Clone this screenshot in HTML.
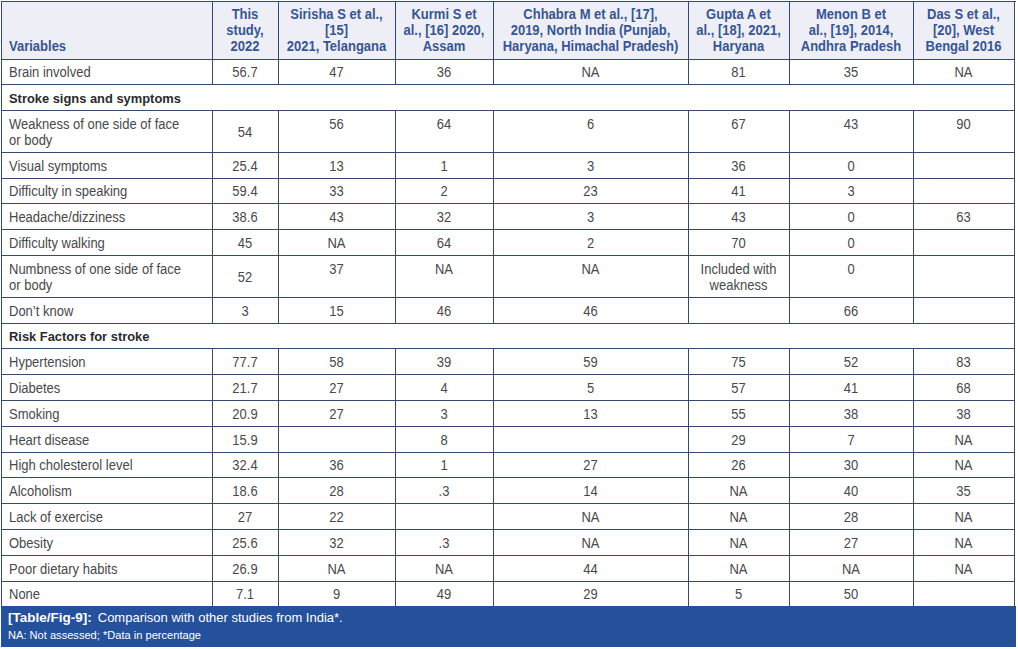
<!DOCTYPE html>
<html><head><meta charset="utf-8"><style>
html,body{margin:0;padding:0;background:#fff;width:1018px;height:649px;overflow:hidden;position:relative}
body{font-family:"Liberation Sans",sans-serif}
div{position:absolute;white-space:nowrap}
.l{background:#354b6d}
.h{font-weight:bold;font-size:13.0px;line-height:16px;color:#375593}
.b{font-size:13.0px;line-height:16px;color:#48484c}
.s{font-weight:bold;color:#2a2a2d;font-size:12.9px}
.c{text-align:center}
.cap{background:#24509c}
.ct1{left:8px;top:610px;font-size:13px;line-height:16px;color:#fff}
.ct2{left:8px;top:628px;font-size:11.1px;line-height:14px;color:#fff}
</style></head><body>
<div style="position:absolute;left:1px;top:1px;width:1013px;height:58px;background:#eeeef7"></div>
<div class="h" style="left:9px;width:203px;top:38.50px;transform:scaleY(1.06);transform-origin:50% 12.50px;">Variables</div>
<div class="h c" style="left:212px;width:66px;top:6.50px;transform:scaleY(1.06);transform-origin:50% 12.50px;">This</div>
<div class="h c" style="left:212px;width:66px;top:22.50px;transform:scaleY(1.06);transform-origin:50% 12.50px;">study,</div>
<div class="h c" style="left:212px;width:66px;top:38.50px;transform:scaleY(1.06);transform-origin:50% 12.50px;">2022</div>
<div class="h c" style="left:278px;width:117px;top:6.50px;transform:scaleY(1.06);transform-origin:50% 12.50px;">Sirisha S et al.,</div>
<div class="h c" style="left:278px;width:117px;top:22.50px;transform:scaleY(1.06);transform-origin:50% 12.50px;">[15]</div>
<div class="h c" style="left:278px;width:117px;top:38.50px;transform:scaleY(1.06);transform-origin:50% 12.50px;">2021, Telangana</div>
<div class="h c" style="left:395px;width:98px;top:6.50px;transform:scaleY(1.06);transform-origin:50% 12.50px;">Kurmi S et</div>
<div class="h c" style="left:395px;width:98px;top:22.50px;transform:scaleY(1.06);transform-origin:50% 12.50px;">al., [16] 2020,</div>
<div class="h c" style="left:395px;width:98px;top:38.50px;transform:scaleY(1.06);transform-origin:50% 12.50px;">Assam</div>
<div class="h c" style="left:493px;width:195px;top:6.50px;transform:scaleY(1.06);transform-origin:50% 12.50px;">Chhabra M et al., [17],</div>
<div class="h c" style="left:493px;width:195px;top:22.50px;transform:scaleY(1.06);transform-origin:50% 12.50px;">2019, North India (Punjab,</div>
<div class="h c" style="left:493px;width:195px;top:38.50px;transform:scaleY(1.06);transform-origin:50% 12.50px;">Haryana, Himachal Pradesh)</div>
<div class="h c" style="left:688px;width:101px;top:6.50px;transform:scaleY(1.06);transform-origin:50% 12.50px;">Gupta A et</div>
<div class="h c" style="left:688px;width:101px;top:22.50px;transform:scaleY(1.06);transform-origin:50% 12.50px;">al., [18], 2021,</div>
<div class="h c" style="left:688px;width:101px;top:38.50px;transform:scaleY(1.06);transform-origin:50% 12.50px;">Haryana</div>
<div class="h c" style="left:789px;width:124px;top:6.50px;transform:scaleY(1.06);transform-origin:50% 12.50px;">Menon B et</div>
<div class="h c" style="left:789px;width:124px;top:22.50px;transform:scaleY(1.06);transform-origin:50% 12.50px;">al., [19], 2014,</div>
<div class="h c" style="left:789px;width:124px;top:38.50px;transform:scaleY(1.06);transform-origin:50% 12.50px;">Andhra Pradesh</div>
<div class="h c" style="left:913px;width:101px;top:6.50px;transform:scaleY(1.06);transform-origin:50% 12.50px;">Das S et al.,</div>
<div class="h c" style="left:913px;width:101px;top:22.50px;transform:scaleY(1.06);transform-origin:50% 12.50px;">[20], West</div>
<div class="h c" style="left:913px;width:101px;top:38.50px;transform:scaleY(1.06);transform-origin:50% 12.50px;">Bengal 2016</div>
<div class="b" style="left:9px;width:203px;top:64.50px;transform:scaleY(1.06);transform-origin:50% 12.50px;">Brain involved</div>
<div class="b c" style="left:212px;width:66px;top:64.50px;transform:scaleY(1.06);transform-origin:50% 12.50px;">56.7</div>
<div class="b c" style="left:278px;width:117px;top:64.50px;transform:scaleY(1.06);transform-origin:50% 12.50px;">47</div>
<div class="b c" style="left:395px;width:98px;top:64.50px;transform:scaleY(1.06);transform-origin:50% 12.50px;">36</div>
<div class="b c" style="left:493px;width:195px;top:64.50px;transform:scaleY(1.06);transform-origin:50% 12.50px;">NA</div>
<div class="b c" style="left:688px;width:101px;top:64.50px;transform:scaleY(1.06);transform-origin:50% 12.50px;">81</div>
<div class="b c" style="left:789px;width:124px;top:64.50px;transform:scaleY(1.06);transform-origin:50% 12.50px;">35</div>
<div class="b c" style="left:913px;width:101px;top:64.50px;transform:scaleY(1.06);transform-origin:50% 12.50px;">NA</div>
<div class="b s" style="left:9px;width:203px;top:90.50px;transform:scaleY(1.06);transform-origin:50% 12.50px;">Stroke signs and symptoms</div>
<div class="b" style="left:9px;width:203px;top:116.50px;transform:scaleY(1.06);transform-origin:50% 12.50px;">Weakness of one side of face</div>
<div class="b" style="left:9px;width:203px;top:132.50px;transform:scaleY(1.06);transform-origin:50% 12.50px;">or body</div>
<div class="b c" style="left:212px;width:66px;top:124.50px;transform:scaleY(1.06);transform-origin:50% 12.50px;">54</div>
<div class="b c" style="left:278px;width:117px;top:116.50px;transform:scaleY(1.06);transform-origin:50% 12.50px;">56</div>
<div class="b c" style="left:395px;width:98px;top:116.50px;transform:scaleY(1.06);transform-origin:50% 12.50px;">64</div>
<div class="b c" style="left:493px;width:195px;top:116.50px;transform:scaleY(1.06);transform-origin:50% 12.50px;">6</div>
<div class="b c" style="left:688px;width:101px;top:116.50px;transform:scaleY(1.06);transform-origin:50% 12.50px;">67</div>
<div class="b c" style="left:789px;width:124px;top:116.50px;transform:scaleY(1.06);transform-origin:50% 12.50px;">43</div>
<div class="b c" style="left:913px;width:101px;top:116.50px;transform:scaleY(1.06);transform-origin:50% 12.50px;">90</div>
<div class="b" style="left:9px;width:203px;top:158.50px;transform:scaleY(1.06);transform-origin:50% 12.50px;">Visual symptoms</div>
<div class="b c" style="left:212px;width:66px;top:158.50px;transform:scaleY(1.06);transform-origin:50% 12.50px;">25.4</div>
<div class="b c" style="left:278px;width:117px;top:158.50px;transform:scaleY(1.06);transform-origin:50% 12.50px;">13</div>
<div class="b c" style="left:395px;width:98px;top:158.50px;transform:scaleY(1.06);transform-origin:50% 12.50px;">1</div>
<div class="b c" style="left:493px;width:195px;top:158.50px;transform:scaleY(1.06);transform-origin:50% 12.50px;">3</div>
<div class="b c" style="left:688px;width:101px;top:158.50px;transform:scaleY(1.06);transform-origin:50% 12.50px;">36</div>
<div class="b c" style="left:789px;width:124px;top:158.50px;transform:scaleY(1.06);transform-origin:50% 12.50px;">0</div>
<div class="b" style="left:9px;width:203px;top:183.50px;transform:scaleY(1.06);transform-origin:50% 12.50px;">Difficulty in speaking</div>
<div class="b c" style="left:212px;width:66px;top:183.50px;transform:scaleY(1.06);transform-origin:50% 12.50px;">59.4</div>
<div class="b c" style="left:278px;width:117px;top:183.50px;transform:scaleY(1.06);transform-origin:50% 12.50px;">33</div>
<div class="b c" style="left:395px;width:98px;top:183.50px;transform:scaleY(1.06);transform-origin:50% 12.50px;">2</div>
<div class="b c" style="left:493px;width:195px;top:183.50px;transform:scaleY(1.06);transform-origin:50% 12.50px;">23</div>
<div class="b c" style="left:688px;width:101px;top:183.50px;transform:scaleY(1.06);transform-origin:50% 12.50px;">41</div>
<div class="b c" style="left:789px;width:124px;top:183.50px;transform:scaleY(1.06);transform-origin:50% 12.50px;">3</div>
<div class="b" style="left:9px;width:203px;top:209.50px;transform:scaleY(1.06);transform-origin:50% 12.50px;">Headache/dizziness</div>
<div class="b c" style="left:212px;width:66px;top:209.50px;transform:scaleY(1.06);transform-origin:50% 12.50px;">38.6</div>
<div class="b c" style="left:278px;width:117px;top:209.50px;transform:scaleY(1.06);transform-origin:50% 12.50px;">43</div>
<div class="b c" style="left:395px;width:98px;top:209.50px;transform:scaleY(1.06);transform-origin:50% 12.50px;">32</div>
<div class="b c" style="left:493px;width:195px;top:209.50px;transform:scaleY(1.06);transform-origin:50% 12.50px;">3</div>
<div class="b c" style="left:688px;width:101px;top:209.50px;transform:scaleY(1.06);transform-origin:50% 12.50px;">43</div>
<div class="b c" style="left:789px;width:124px;top:209.50px;transform:scaleY(1.06);transform-origin:50% 12.50px;">0</div>
<div class="b c" style="left:913px;width:101px;top:209.50px;transform:scaleY(1.06);transform-origin:50% 12.50px;">63</div>
<div class="b" style="left:9px;width:203px;top:235.50px;transform:scaleY(1.06);transform-origin:50% 12.50px;">Difficulty walking</div>
<div class="b c" style="left:212px;width:66px;top:235.50px;transform:scaleY(1.06);transform-origin:50% 12.50px;">45</div>
<div class="b c" style="left:278px;width:117px;top:235.50px;transform:scaleY(1.06);transform-origin:50% 12.50px;">NA</div>
<div class="b c" style="left:395px;width:98px;top:235.50px;transform:scaleY(1.06);transform-origin:50% 12.50px;">64</div>
<div class="b c" style="left:493px;width:195px;top:235.50px;transform:scaleY(1.06);transform-origin:50% 12.50px;">2</div>
<div class="b c" style="left:688px;width:101px;top:235.50px;transform:scaleY(1.06);transform-origin:50% 12.50px;">70</div>
<div class="b c" style="left:789px;width:124px;top:235.50px;transform:scaleY(1.06);transform-origin:50% 12.50px;">0</div>
<div class="b" style="left:9px;width:203px;top:261.50px;transform:scaleY(1.06);transform-origin:50% 12.50px;">Numbness of one side of face</div>
<div class="b" style="left:9px;width:203px;top:277.50px;transform:scaleY(1.06);transform-origin:50% 12.50px;">or body</div>
<div class="b c" style="left:212px;width:66px;top:269.50px;transform:scaleY(1.06);transform-origin:50% 12.50px;">52</div>
<div class="b c" style="left:278px;width:117px;top:261.50px;transform:scaleY(1.06);transform-origin:50% 12.50px;">37</div>
<div class="b c" style="left:395px;width:98px;top:261.50px;transform:scaleY(1.06);transform-origin:50% 12.50px;">NA</div>
<div class="b c" style="left:493px;width:195px;top:261.50px;transform:scaleY(1.06);transform-origin:50% 12.50px;">NA</div>
<div class="b c" style="left:688px;width:101px;top:261.50px;transform:scaleY(1.06);transform-origin:50% 12.50px;">Included with</div>
<div class="b c" style="left:688px;width:101px;top:277.50px;transform:scaleY(1.06);transform-origin:50% 12.50px;">weakness</div>
<div class="b c" style="left:789px;width:124px;top:261.50px;transform:scaleY(1.06);transform-origin:50% 12.50px;">0</div>
<div class="b" style="left:9px;width:203px;top:303.50px;transform:scaleY(1.06);transform-origin:50% 12.50px;">Don’t know</div>
<div class="b c" style="left:212px;width:66px;top:303.50px;transform:scaleY(1.06);transform-origin:50% 12.50px;">3</div>
<div class="b c" style="left:278px;width:117px;top:303.50px;transform:scaleY(1.06);transform-origin:50% 12.50px;">15</div>
<div class="b c" style="left:395px;width:98px;top:303.50px;transform:scaleY(1.06);transform-origin:50% 12.50px;">46</div>
<div class="b c" style="left:493px;width:195px;top:303.50px;transform:scaleY(1.06);transform-origin:50% 12.50px;">46</div>
<div class="b c" style="left:789px;width:124px;top:303.50px;transform:scaleY(1.06);transform-origin:50% 12.50px;">66</div>
<div class="b s" style="left:9px;width:203px;top:328.50px;transform:scaleY(1.06);transform-origin:50% 12.50px;">Risk Factors for stroke</div>
<div class="b" style="left:9px;width:203px;top:354.50px;transform:scaleY(1.06);transform-origin:50% 12.50px;">Hypertension</div>
<div class="b c" style="left:212px;width:66px;top:354.50px;transform:scaleY(1.06);transform-origin:50% 12.50px;">77.7</div>
<div class="b c" style="left:278px;width:117px;top:354.50px;transform:scaleY(1.06);transform-origin:50% 12.50px;">58</div>
<div class="b c" style="left:395px;width:98px;top:354.50px;transform:scaleY(1.06);transform-origin:50% 12.50px;">39</div>
<div class="b c" style="left:493px;width:195px;top:354.50px;transform:scaleY(1.06);transform-origin:50% 12.50px;">59</div>
<div class="b c" style="left:688px;width:101px;top:354.50px;transform:scaleY(1.06);transform-origin:50% 12.50px;">75</div>
<div class="b c" style="left:789px;width:124px;top:354.50px;transform:scaleY(1.06);transform-origin:50% 12.50px;">52</div>
<div class="b c" style="left:913px;width:101px;top:354.50px;transform:scaleY(1.06);transform-origin:50% 12.50px;">83</div>
<div class="b" style="left:9px;width:203px;top:380.50px;transform:scaleY(1.06);transform-origin:50% 12.50px;">Diabetes</div>
<div class="b c" style="left:212px;width:66px;top:380.50px;transform:scaleY(1.06);transform-origin:50% 12.50px;">21.7</div>
<div class="b c" style="left:278px;width:117px;top:380.50px;transform:scaleY(1.06);transform-origin:50% 12.50px;">27</div>
<div class="b c" style="left:395px;width:98px;top:380.50px;transform:scaleY(1.06);transform-origin:50% 12.50px;">4</div>
<div class="b c" style="left:493px;width:195px;top:380.50px;transform:scaleY(1.06);transform-origin:50% 12.50px;">5</div>
<div class="b c" style="left:688px;width:101px;top:380.50px;transform:scaleY(1.06);transform-origin:50% 12.50px;">57</div>
<div class="b c" style="left:789px;width:124px;top:380.50px;transform:scaleY(1.06);transform-origin:50% 12.50px;">41</div>
<div class="b c" style="left:913px;width:101px;top:380.50px;transform:scaleY(1.06);transform-origin:50% 12.50px;">68</div>
<div class="b" style="left:9px;width:203px;top:406.50px;transform:scaleY(1.06);transform-origin:50% 12.50px;">Smoking</div>
<div class="b c" style="left:212px;width:66px;top:406.50px;transform:scaleY(1.06);transform-origin:50% 12.50px;">20.9</div>
<div class="b c" style="left:278px;width:117px;top:406.50px;transform:scaleY(1.06);transform-origin:50% 12.50px;">27</div>
<div class="b c" style="left:395px;width:98px;top:406.50px;transform:scaleY(1.06);transform-origin:50% 12.50px;">3</div>
<div class="b c" style="left:493px;width:195px;top:406.50px;transform:scaleY(1.06);transform-origin:50% 12.50px;">13</div>
<div class="b c" style="left:688px;width:101px;top:406.50px;transform:scaleY(1.06);transform-origin:50% 12.50px;">55</div>
<div class="b c" style="left:789px;width:124px;top:406.50px;transform:scaleY(1.06);transform-origin:50% 12.50px;">38</div>
<div class="b c" style="left:913px;width:101px;top:406.50px;transform:scaleY(1.06);transform-origin:50% 12.50px;">38</div>
<div class="b" style="left:9px;width:203px;top:432.50px;transform:scaleY(1.06);transform-origin:50% 12.50px;">Heart disease</div>
<div class="b c" style="left:212px;width:66px;top:432.50px;transform:scaleY(1.06);transform-origin:50% 12.50px;">15.9</div>
<div class="b c" style="left:395px;width:98px;top:432.50px;transform:scaleY(1.06);transform-origin:50% 12.50px;">8</div>
<div class="b c" style="left:688px;width:101px;top:432.50px;transform:scaleY(1.06);transform-origin:50% 12.50px;">29</div>
<div class="b c" style="left:789px;width:124px;top:432.50px;transform:scaleY(1.06);transform-origin:50% 12.50px;">7</div>
<div class="b c" style="left:913px;width:101px;top:432.50px;transform:scaleY(1.06);transform-origin:50% 12.50px;">NA</div>
<div class="b" style="left:9px;width:203px;top:457.50px;transform:scaleY(1.06);transform-origin:50% 12.50px;">High cholesterol level</div>
<div class="b c" style="left:212px;width:66px;top:457.50px;transform:scaleY(1.06);transform-origin:50% 12.50px;">32.4</div>
<div class="b c" style="left:278px;width:117px;top:457.50px;transform:scaleY(1.06);transform-origin:50% 12.50px;">36</div>
<div class="b c" style="left:395px;width:98px;top:457.50px;transform:scaleY(1.06);transform-origin:50% 12.50px;">1</div>
<div class="b c" style="left:493px;width:195px;top:457.50px;transform:scaleY(1.06);transform-origin:50% 12.50px;">27</div>
<div class="b c" style="left:688px;width:101px;top:457.50px;transform:scaleY(1.06);transform-origin:50% 12.50px;">26</div>
<div class="b c" style="left:789px;width:124px;top:457.50px;transform:scaleY(1.06);transform-origin:50% 12.50px;">30</div>
<div class="b c" style="left:913px;width:101px;top:457.50px;transform:scaleY(1.06);transform-origin:50% 12.50px;">NA</div>
<div class="b" style="left:9px;width:203px;top:483.50px;transform:scaleY(1.06);transform-origin:50% 12.50px;">Alcoholism</div>
<div class="b c" style="left:212px;width:66px;top:483.50px;transform:scaleY(1.06);transform-origin:50% 12.50px;">18.6</div>
<div class="b c" style="left:278px;width:117px;top:483.50px;transform:scaleY(1.06);transform-origin:50% 12.50px;">28</div>
<div class="b c" style="left:395px;width:98px;top:483.50px;transform:scaleY(1.06);transform-origin:50% 12.50px;">.3</div>
<div class="b c" style="left:493px;width:195px;top:483.50px;transform:scaleY(1.06);transform-origin:50% 12.50px;">14</div>
<div class="b c" style="left:688px;width:101px;top:483.50px;transform:scaleY(1.06);transform-origin:50% 12.50px;">NA</div>
<div class="b c" style="left:789px;width:124px;top:483.50px;transform:scaleY(1.06);transform-origin:50% 12.50px;">40</div>
<div class="b c" style="left:913px;width:101px;top:483.50px;transform:scaleY(1.06);transform-origin:50% 12.50px;">35</div>
<div class="b" style="left:9px;width:203px;top:509.50px;transform:scaleY(1.06);transform-origin:50% 12.50px;">Lack of exercise</div>
<div class="b c" style="left:212px;width:66px;top:509.50px;transform:scaleY(1.06);transform-origin:50% 12.50px;">27</div>
<div class="b c" style="left:278px;width:117px;top:509.50px;transform:scaleY(1.06);transform-origin:50% 12.50px;">22</div>
<div class="b c" style="left:493px;width:195px;top:509.50px;transform:scaleY(1.06);transform-origin:50% 12.50px;">NA</div>
<div class="b c" style="left:688px;width:101px;top:509.50px;transform:scaleY(1.06);transform-origin:50% 12.50px;">NA</div>
<div class="b c" style="left:789px;width:124px;top:509.50px;transform:scaleY(1.06);transform-origin:50% 12.50px;">28</div>
<div class="b c" style="left:913px;width:101px;top:509.50px;transform:scaleY(1.06);transform-origin:50% 12.50px;">NA</div>
<div class="b" style="left:9px;width:203px;top:535.50px;transform:scaleY(1.06);transform-origin:50% 12.50px;">Obesity</div>
<div class="b c" style="left:212px;width:66px;top:535.50px;transform:scaleY(1.06);transform-origin:50% 12.50px;">25.6</div>
<div class="b c" style="left:278px;width:117px;top:535.50px;transform:scaleY(1.06);transform-origin:50% 12.50px;">32</div>
<div class="b c" style="left:395px;width:98px;top:535.50px;transform:scaleY(1.06);transform-origin:50% 12.50px;">.3</div>
<div class="b c" style="left:493px;width:195px;top:535.50px;transform:scaleY(1.06);transform-origin:50% 12.50px;">NA</div>
<div class="b c" style="left:688px;width:101px;top:535.50px;transform:scaleY(1.06);transform-origin:50% 12.50px;">NA</div>
<div class="b c" style="left:789px;width:124px;top:535.50px;transform:scaleY(1.06);transform-origin:50% 12.50px;">27</div>
<div class="b c" style="left:913px;width:101px;top:535.50px;transform:scaleY(1.06);transform-origin:50% 12.50px;">NA</div>
<div class="b" style="left:9px;width:203px;top:561.50px;transform:scaleY(1.06);transform-origin:50% 12.50px;">Poor dietary habits</div>
<div class="b c" style="left:212px;width:66px;top:561.50px;transform:scaleY(1.06);transform-origin:50% 12.50px;">26.9</div>
<div class="b c" style="left:278px;width:117px;top:561.50px;transform:scaleY(1.06);transform-origin:50% 12.50px;">NA</div>
<div class="b c" style="left:395px;width:98px;top:561.50px;transform:scaleY(1.06);transform-origin:50% 12.50px;">NA</div>
<div class="b c" style="left:493px;width:195px;top:561.50px;transform:scaleY(1.06);transform-origin:50% 12.50px;">44</div>
<div class="b c" style="left:688px;width:101px;top:561.50px;transform:scaleY(1.06);transform-origin:50% 12.50px;">NA</div>
<div class="b c" style="left:789px;width:124px;top:561.50px;transform:scaleY(1.06);transform-origin:50% 12.50px;">NA</div>
<div class="b c" style="left:913px;width:101px;top:561.50px;transform:scaleY(1.06);transform-origin:50% 12.50px;">NA</div>
<div class="b" style="left:9px;width:203px;top:586.50px;transform:scaleY(1.06);transform-origin:50% 12.50px;">None</div>
<div class="b c" style="left:212px;width:66px;top:586.50px;transform:scaleY(1.06);transform-origin:50% 12.50px;">7.1</div>
<div class="b c" style="left:278px;width:117px;top:586.50px;transform:scaleY(1.06);transform-origin:50% 12.50px;">9</div>
<div class="b c" style="left:395px;width:98px;top:586.50px;transform:scaleY(1.06);transform-origin:50% 12.50px;">49</div>
<div class="b c" style="left:493px;width:195px;top:586.50px;transform:scaleY(1.06);transform-origin:50% 12.50px;">29</div>
<div class="b c" style="left:688px;width:101px;top:586.50px;transform:scaleY(1.06);transform-origin:50% 12.50px;">5</div>
<div class="b c" style="left:789px;width:124px;top:586.50px;transform:scaleY(1.06);transform-origin:50% 12.50px;">50</div>
<div class="l" style="left:1px;top:1px;width:1015px;height:1px"></div>
<div class="l" style="left:1px;top:59px;width:1014px;height:1px"></div>
<div class="l" style="left:1px;top:84px;width:1014px;height:1px"></div>
<div class="l" style="left:1px;top:110px;width:1014px;height:1px"></div>
<div class="l" style="left:1px;top:152px;width:1014px;height:1px"></div>
<div class="l" style="left:1px;top:178px;width:1014px;height:1px"></div>
<div class="l" style="left:1px;top:203px;width:1014px;height:1px"></div>
<div class="l" style="left:1px;top:229px;width:1014px;height:1px"></div>
<div class="l" style="left:1px;top:255px;width:1014px;height:1px"></div>
<div class="l" style="left:1px;top:297px;width:1014px;height:1px"></div>
<div class="l" style="left:1px;top:323px;width:1014px;height:1px"></div>
<div class="l" style="left:1px;top:348px;width:1014px;height:1px"></div>
<div class="l" style="left:1px;top:374px;width:1014px;height:1px"></div>
<div class="l" style="left:1px;top:400px;width:1014px;height:1px"></div>
<div class="l" style="left:1px;top:426px;width:1014px;height:1px"></div>
<div class="l" style="left:1px;top:452px;width:1014px;height:1px"></div>
<div class="l" style="left:1px;top:477px;width:1014px;height:1px"></div>
<div class="l" style="left:1px;top:503px;width:1014px;height:1px"></div>
<div class="l" style="left:1px;top:529px;width:1014px;height:1px"></div>
<div class="l" style="left:1px;top:555px;width:1014px;height:1px"></div>
<div class="l" style="left:1px;top:581px;width:1014px;height:1px"></div>
<div class="l" style="left:1px;top:1px;width:1px;height:605px"></div>
<div class="l" style="left:212px;top:1px;width:1px;height:84px"></div>
<div class="l" style="left:212px;top:110px;width:1px;height:214px"></div>
<div class="l" style="left:212px;top:348px;width:1px;height:258px"></div>
<div class="l" style="left:278px;top:1px;width:1px;height:84px"></div>
<div class="l" style="left:278px;top:110px;width:1px;height:214px"></div>
<div class="l" style="left:278px;top:348px;width:1px;height:258px"></div>
<div class="l" style="left:395px;top:1px;width:1px;height:84px"></div>
<div class="l" style="left:395px;top:110px;width:1px;height:214px"></div>
<div class="l" style="left:395px;top:348px;width:1px;height:258px"></div>
<div class="l" style="left:493px;top:1px;width:1px;height:84px"></div>
<div class="l" style="left:493px;top:110px;width:1px;height:214px"></div>
<div class="l" style="left:493px;top:348px;width:1px;height:258px"></div>
<div class="l" style="left:688px;top:1px;width:1px;height:84px"></div>
<div class="l" style="left:688px;top:110px;width:1px;height:214px"></div>
<div class="l" style="left:688px;top:348px;width:1px;height:258px"></div>
<div class="l" style="left:789px;top:1px;width:1px;height:84px"></div>
<div class="l" style="left:789px;top:110px;width:1px;height:214px"></div>
<div class="l" style="left:789px;top:348px;width:1px;height:258px"></div>
<div class="l" style="left:913px;top:1px;width:1px;height:84px"></div>
<div class="l" style="left:913px;top:110px;width:1px;height:214px"></div>
<div class="l" style="left:913px;top:348px;width:1px;height:258px"></div>
<div class="l" style="left:1014px;top:1px;width:1px;height:605px"></div>
<div class="cap" style="left:1px;top:606px;width:1015px;height:41px"></div>
<div class="ct1"><b style="font-size:13.5px">[Table/Fig-9]:</b><span style="margin-left:6px">Comparison</span> with other studies from India*.</div>
<div class="ct2">NA: Not assessed; *Data in percentage</div>
</body></html>
